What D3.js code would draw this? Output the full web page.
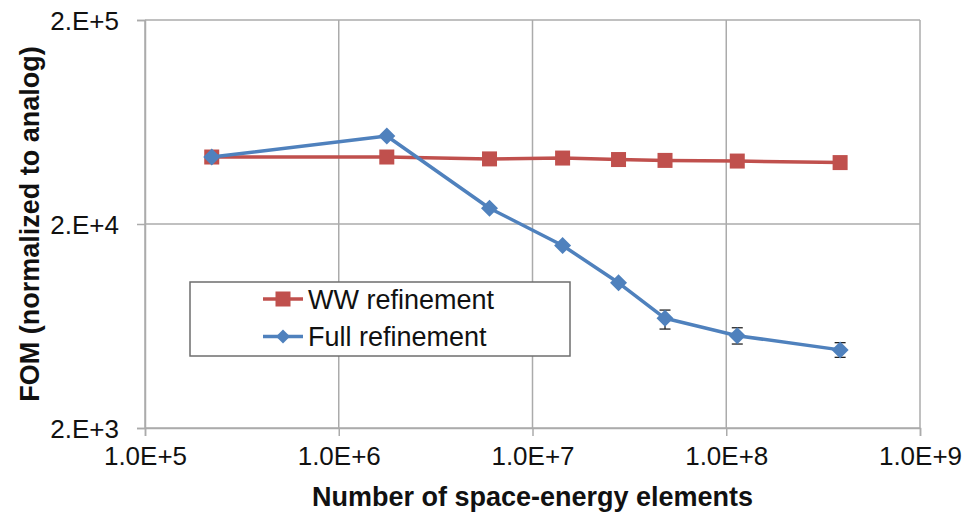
<!DOCTYPE html>
<html>
<head>
<meta charset="utf-8">
<script src="https://cdn.jsdelivr.net/npm/d3@7"></script>
<style>
  html, body { margin: 0; padding: 0; background: #fff; }
  svg { display: block; font-family: "Liberation Sans", Arial, sans-serif; }
</style>
</head>
<body>
<svg id="chart" width="967" height="516"></svg>
<script>
// Number of space-energy elements for each mesh refinement level
const elements = [2.21e5, 1.77e6, 6.0e6, 1.43e7, 2.78e7, 4.83e7, 1.14e8, 3.87e8];
// FOM (normalized to analog) for each refinement strategy
const wwRefinement   = [4.26e4, 4.26e4, 4.17e4, 4.21e4, 4.14e4, 4.10e4, 4.07e4, 4.00e4];
const fullRefinement = [4.26e4, 5.40e4, 2.39e4, 1.57e4, 1.03e4, 6.90e3, 5.67e3, 4.83e3];
// Error bar bounds for the full refinement series (null where no bar is drawn)
const fullErrLow  = [null, null, null, null, null, 6.11e3, 5.16e3, 4.44e3];
const fullErrHigh = [null, null, null, null, null, 7.57e3, 6.20e3, 5.24e3];

const seriesNames = ["WW refinement", "Full refinement"];
const xTickValues = [1e5, 1e6, 1e7, 1e8, 1e9];
const xTickLabels = ["1.0E+5", "1.0E+6", "1.0E+7", "1.0E+8", "1.0E+9"];
const yTickValues = [2e3, 2e4, 2e5];
const yTickLabels = ["2.E+3", "2.E+4", "2.E+5"];
const xTitle = "Number of space-energy elements";
const yTitle = "FOM (normalized to analog)";

const red = "#C0504D", blue = "#4F81BD", gridColor = "#ABABAB";

const svg = d3.select("#chart");
const plot = { left: 145, right: 920, top: 20, bottom: 428 };

const x = d3.scaleLog().domain([1e5, 1e9]).range([plot.left, plot.right]);
const y = d3.scaleLog().domain([2e3, 2e5]).range([plot.bottom, plot.top]);

// Gridlines
const grid = svg.append("g");
grid.selectAll("line.vx").data(xTickValues).join("line")
  .attr("x1", d => x(d)).attr("x2", d => x(d))
  .attr("y1", plot.top).attr("y2", plot.bottom)
  .attr("stroke", gridColor).attr("stroke-width", 1.5);
grid.selectAll("line.hy").data(yTickValues).join("line")
  .attr("x1", plot.left).attr("x2", plot.right)
  .attr("y1", d => y(d)).attr("y2", d => y(d))
  .attr("stroke", gridColor).attr("stroke-width", 1.5);

// Axes
const xAxis = d3.axisBottom(x).tickValues(xTickValues)
  .tickFormat((d, i) => xTickLabels[i]).tickSize(8).tickPadding(11);
const yAxis = d3.axisLeft(y).tickValues(yTickValues)
  .tickFormat((d, i) => yTickLabels[i]).tickSize(8).tickPadding(18);

const gx = svg.append("g").attr("transform", `translate(0,${plot.bottom})`).call(xAxis);
const gy = svg.append("g").attr("transform", `translate(${plot.left},0)`).call(yAxis);
[gx, gy].forEach(g => {
  g.select(".domain").attr("stroke", gridColor).attr("stroke-width", 1.5);
  g.selectAll(".tick line").attr("stroke", gridColor).attr("stroke-width", 1.5);
  g.selectAll(".tick text").attr("fill", "#111").style("font-size", "26px")
    .style("font-family", '"Liberation Sans", Arial, sans-serif');
});
gy.selectAll(".tick text").attr("dy", "0.36em");

// Axis titles
svg.append("text")
  .attr("x", (plot.left + plot.right) / 2).attr("y", 506)
  .attr("text-anchor", "middle")
  .style("font-size", "27px").style("font-weight", "bold").attr("fill", "#111")
  .text(xTitle);
svg.append("text")
  .attr("transform", `translate(39,${(plot.top + plot.bottom) / 2}) rotate(-90)`)
  .attr("text-anchor", "middle")
  .style("font-size", "27px").style("font-weight", "bold").attr("fill", "#111")
  .text(yTitle);

// Series lines
const line = d3.line().x(d => x(d[0])).y(d => y(d[1]));
const wwPts = elements.map((e, i) => [e, wwRefinement[i]]);
const fullPts = elements.map((e, i) => [e, fullRefinement[i]]);

svg.append("path").datum(wwPts).attr("d", line)
  .attr("fill", "none").attr("stroke", red).attr("stroke-width", 3.5)
  .attr("stroke-linejoin", "round");

// Square markers for WW refinement
const sq = 15;
svg.append("g").selectAll("rect").data(wwPts).join("rect")
  .attr("x", d => x(d[0]) - sq / 2).attr("y", d => y(d[1]) - sq / 2)
  .attr("width", sq).attr("height", sq).attr("fill", red);

svg.append("path").datum(fullPts).attr("d", line)
  .attr("fill", "none").attr("stroke", blue).attr("stroke-width", 3.5)
  .attr("stroke-linejoin", "round");

// Error bars for full refinement
const errData = elements.map((e, i) => ({ e, lo: fullErrLow[i], hi: fullErrHigh[i] }))
  .filter(d => d.lo != null);
const eg = svg.append("g").attr("stroke", "#222").attr("stroke-width", 1.3);
errData.forEach(d => {
  const cx = x(d.e);
  eg.append("line").attr("x1", cx).attr("x2", cx).attr("y1", y(d.lo)).attr("y2", y(d.hi));
  eg.append("line").attr("x1", cx - 5.5).attr("x2", cx + 5.5).attr("y1", y(d.lo)).attr("y2", y(d.lo));
  eg.append("line").attr("x1", cx - 5.5).attr("x2", cx + 5.5).attr("y1", y(d.hi)).attr("y2", y(d.hi));
});

// Diamond markers for full refinement
const diamond = r => `M0,${-r}L${r},0L0,${r}L${-r},0Z`;
svg.append("g").selectAll("path").data(fullPts).join("path")
  .attr("transform", d => `translate(${x(d[0])},${y(d[1])})`)
  .attr("d", diamond(8.5)).attr("fill", blue);

// Legend
const legend = svg.append("g");
legend.append("rect")
  .attr("x", 190).attr("y", 282).attr("width", 380).attr("height", 74)
  .attr("fill", "#fff").attr("stroke", "#6E6E6E").attr("stroke-width", 1.5);
const legendRows = [
  { name: seriesNames[0], color: red, shape: "square", cy: 299 },
  { name: seriesNames[1], color: blue, shape: "diamond", cy: 336.5 }
];
legendRows.forEach(r => {
  legend.append("line").attr("x1", 263).attr("x2", 303)
    .attr("y1", r.cy).attr("y2", r.cy)
    .attr("stroke", r.color).attr("stroke-width", 3.5);
  if (r.shape === "square") {
    legend.append("rect").attr("x", 283 - 7.5).attr("y", r.cy - 7.5)
      .attr("width", 15).attr("height", 15).attr("fill", r.color);
  } else {
    legend.append("path").attr("transform", `translate(283,${r.cy})`)
      .attr("d", diamond(7)).attr("fill", r.color);
  }
  legend.append("text").attr("x", 308).attr("y", r.cy).attr("dy", "0.36em")
    .style("font-size", "27px").attr("fill", "#111").text(r.name);
});
</script>
</body>
</html>
